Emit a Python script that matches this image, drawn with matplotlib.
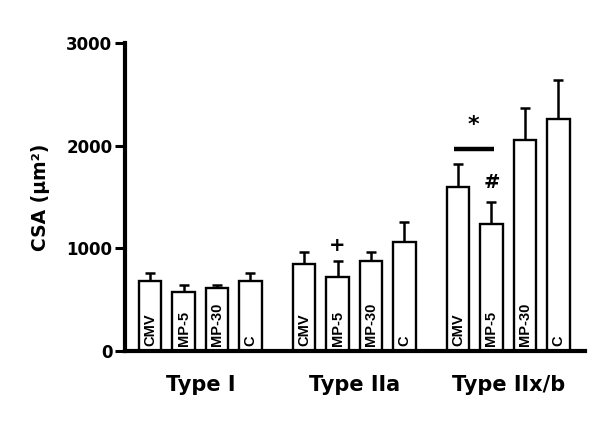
import matplotlib.pyplot as plt
import numpy as np

plt.rcParams['font.family'] = ['DejaVu Sans']
plt.rcParams['font.weight'] = 'bold'

groups = ['Type I', 'Type IIa', 'Type IIx/b']
conditions = ['CMV', 'MP-5', 'MP-30', 'C']
means = [[682, 577, 615, 682],
         [844, 724, 879, 1058],
         [1600, 1237, 2055, 2256]]
errors = [[75, 65, 25, 78],
          [123, 150, 88, 200],
          [224, 210, 308, 383]]

group_gap = 4.6
width = 0.67

fig = plt.figure(figsize=(6, 4.23), dpi=100)
ax = fig.add_axes([0.2083, 0.1702, 0.767, 0.728])

for g in range(len(groups)):
    x = g * group_gap + np.arange(len(conditions))
    ax.bar(x, means[g], width, color='white', edgecolor='black', linewidth=1.7, zorder=2)
    ax.errorbar(x, means[g], yerr=[np.zeros(4), errors[g]], fmt='none',
                ecolor='black', elinewidth=1.8, capsize=3.8, capthick=1.8, zorder=1)
    for xi, lab in zip(x, conditions):
        ax.text(xi, 50, lab, rotation=90, ha='center', va='bottom',
                fontsize=10.5, fontweight='bold', family='Liberation Sans')

# significance marks
ax.text(1 + group_gap, 1030, '+', ha='center', va='center', fontsize=14, fontweight='bold')
ax.text(1 + 2 * group_gap, 1640, '#', ha='center', va='center', fontsize=14, fontweight='bold')
ax.plot([2 * group_gap - 0.13, 2 * group_gap + 1.07], [1967, 1967], color='black', lw=3.2,
        solid_capstyle='butt')
ax.text(2 * group_gap + 0.47, 2200, '*', ha='center', va='center', fontsize=16, fontweight='bold')

ax.set_xlim(-0.75, 13.0)
ax.set_ylim(0, 3000)
ax.set_yticks([0, 1000, 2000, 3000])
ax.set_xticks([g * group_gap + 1.5 for g in range(len(groups))])
ax.set_xticklabels(groups, fontsize=15, fontweight='bold')
ax.tick_params(axis='x', length=0, pad=17)
ax.tick_params(axis='y', length=7, width=2.2, labelsize=12, pad=2)
for lab in ax.get_yticklabels():
    lab.set_fontweight('bold')
ax.set_ylabel('CSA (µm²)', fontsize=13.5, fontweight='bold', labelpad=12)

ax.spines['top'].set_visible(False)
ax.spines['right'].set_visible(False)
ax.spines['left'].set_linewidth(3)
ax.spines['bottom'].set_linewidth(3)

plt.savefig('out.png', dpi=100)
